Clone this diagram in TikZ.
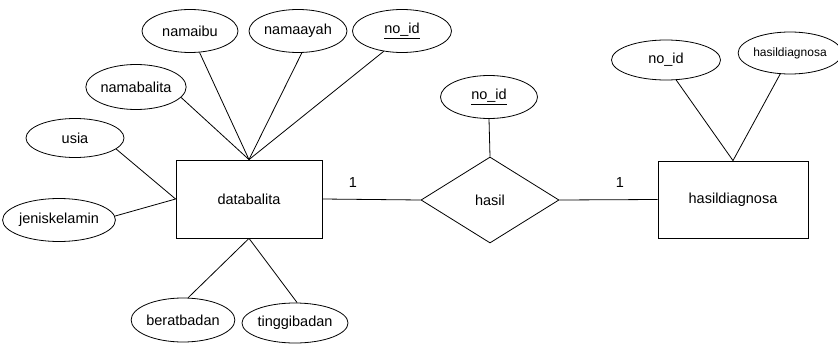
\documentclass[tikz,border=0pt]{standalone}
\usepackage{fontspec}
\setmainfont{Liberation Sans}
\usetikzlibrary{shapes.geometric}
\begin{document}
\begin{tikzpicture}[x=1pt,y=-1pt,
  every node/.style={font=\fontsize{14.5}{17}\selectfont},
  attr/.style={draw, ellipse, inner sep=0pt, line width=0.8pt},
  ent/.style={draw, rectangle, inner sep=0pt, line width=0.8pt},
  rel/.style={draw, diamond, inner sep=0pt, line width=0.8pt},
  conn/.style={line width=0.8pt},
  card/.style={inner sep=0pt}]
\useasboundingbox (0,0) rectangle (838,345);
% entities
\node[ent, minimum width=146, minimum height=78] (db) at (249,199) {databalita};
\node[ent, minimum width=150, minimum height=77] (hd) at (733,199.5) {hasildiagnosa};
\node[rel, minimum width=138, minimum height=86] (hs) at (490,200) {hasil};
% attributes
\node[attr, minimum width=96, minimum height=43] (namaibu) at (190,31) {namaibu};
\node[attr, minimum width=98, minimum height=43] (namaayah) at (298,31) {namaayah};
\node[attr, minimum width=99, minimum height=43] (noida) at (402,31) {\underline{no\_id}};
\node[attr, minimum width=98, minimum height=45] (namabalita) at (136,87) {namabalita};
\node[attr, minimum width=98, minimum height=39] (usia) at (75,138) {usia};
\node[attr, minimum width=97, minimum height=43] (jk) at (59,220) {jeniskelamin};
\node[attr, minimum width=98, minimum height=44] (bb) at (183,320) {beratbadan};
\node[attr, minimum width=97, minimum height=40] (tb) at (295,323) {tinggibadan};
\node[attr, minimum width=97, minimum height=43] (noidb) at (489,97) {\underline{no\_id}};
\node[attr, minimum width=109, minimum height=40] (noidc) at (666,60) {no\_id};
\node[attr, minimum width=95, minimum height=42, font=\fontsize{12}{14}\selectfont] (hdattr) at (790,53) {hasildiagnosa};
% cardinalities
\node[card] (c1) at (353,183) {1};
\node[card] (c2) at (620,183) {1};
% connectors
\draw[conn] (namaibu.-66) -- (db.north);
\draw[conn] (namaayah.-80) -- (db.north);
\draw[conn] (noida.-132) -- (db.north);
\draw[conn] (namabalita.-13) -- (db.north);
\draw[conn] (usia.-15) -- (db.west);
\draw[conn] (jk.4) -- (db.west);
\draw[conn] (bb.77) -- (db.south);
\draw[conn] (tb.84) -- (db.south);
\draw[conn] (db.east) -- (hs.west);
\draw[conn] (hs.east) -- (hd.west);
\draw[conn] (noidb.south) -- (hs.north);
\draw[conn] (noidc.-63) -- (hd.north);
\draw[conn] (hdattr.-115) -- (hd.north);
\end{tikzpicture}
\end{document}
